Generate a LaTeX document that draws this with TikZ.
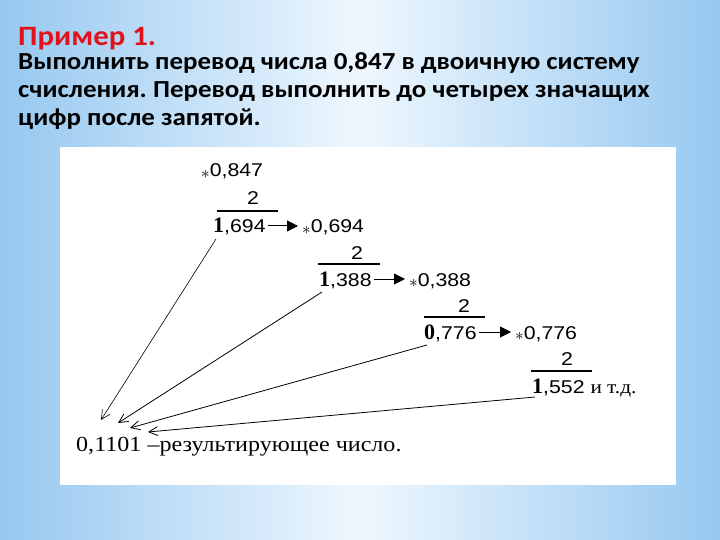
\documentclass[tikz,border=0pt]{standalone}
\usepackage{fontspec}
\usetikzlibrary{arrows.meta,calc}
\setmainfont{Liberation Serif}
\newfontfamily\headfont[FakeStretch=1.1]{Carlito}
\newfontfamily\numfont[FakeStretch=1.15]{Liberation Sans}
\newfontfamily\notefont[FakeStretch=1.12]{Liberation Serif}
\definecolor{skyedge}{RGB}{150,200,240}
\definecolor{skymid}{RGB}{238,247,254}
\definecolor{titlered}{RGB}{226,18,28}
\newcommand{\mstar}{\raisebox{-1.5pt}{\fontsize{16}{16}\selectfont$\ast$}}
\newcommand{\one}[1]{{\rmfamily\bfseries\fontsize{22}{22}\selectfont #1}}
\frenchspacing

\begin{document}
\begin{tikzpicture}[x=1pt,y=-1pt,
    num/.style={inner sep=0pt,anchor=base west,font=\numfont\fontsize{18.5}{20}\selectfont},
    two/.style={num,anchor=base},
    rule/.style={line width=1.3pt},
    carry/.style={line width=1pt,-{Triangle[length=11pt,width=11pt]}},
    link/.style={line width=0.8pt,-{Straight Barb[length=9pt,width=9pt]}}]
  \useasboundingbox (0,0) rectangle (720,540);
  % background
  \shade[left color=skyedge,right color=skyedge,middle color=skymid] (0,0) rectangle (720,540);
  \fill[white] (60,147) rectangle (676,485);
  % task text
  \node[anchor=base west,inner sep=0pt,text=titlered,font=\headfont\bfseries\fontsize{28}{28}\selectfont] (title) at (18,46) {Пример 1.};
  \node[anchor=base west,inner sep=0pt,align=left,font=\headfont\bfseries\fontsize{24.5}{28}\selectfont] (task) at (18,126)
    {Выполнить перевод числа 0,847 в двоичную систему\\счисления. Перевод выполнить до четырех значащих\\цифр после запятой.};
  % multiplication steps
  \node[num] (m1) at (201,177) {\mstar0,847};
  \node[two] (t1) at (253,205) {2};
  \draw[rule] (217,211) -- (278,211);
  \node[num] (p1) at (213,233) {\one{1},694};
  \node[num] (m2) at (302,233) {\mstar0,694};
  \node[two] (t2) at (357,259) {2};
  \draw[rule] (318,264) -- (380,264);
  \node[num] (p2) at (319,286) {\one{1},388};
  \node[num] (m3) at (409,286) {\mstar0,388};
  \node[two] (t3) at (464,312) {2};
  \draw[rule] (424,317) -- (485,317);
  \node[num] (p3) at (424,339) {\one{0},776};
  \node[num] (m4) at (515,339) {\mstar0,776};
  \node[two] (t4) at (567,365) {2};
  \draw[rule] (531,371) -- (592,371);
  \node[num] (p4) at (532,393) {\one{1},552 {\notefont\fontsize{19}{19}\selectfont и т.д.}};
  \draw[carry] ($(p1.base east)+(2,-7)$) -- ($(m2.base west)+(-4,-7)$);
  \draw[carry] ($(p2.base east)+(2,-7)$) -- ($(m3.base west)+(-4,-7)$);
  \draw[carry] ($(p3.base east)+(2,-7)$) -- ($(m4.base west)+(-4,-7)$);
  % result
  \node[anchor=base west,inner sep=0pt,font=\notefont\fontsize{21.5}{22}\selectfont] (res) at (76,451) {0,1101 –результирующее число.};
  \coordinate (e1) at (101,420);
  \coordinate (e2) at (118,423);
  \coordinate (e3) at (130,428);
  \coordinate (e4) at (148,432);
  \draw[link,line width=0.6pt] ($(p1.base west)+(3,6)$) -- (e1);
  \draw[link] ($(p2.base west)+(3,6)$) -- (e2);
  \draw[link] ($(p3.base west)+(3,6)$) -- (e3);
  \draw[link] ($(p4.base west)+(3,4)$) -- (e4);
\end{tikzpicture}
\end{document}
